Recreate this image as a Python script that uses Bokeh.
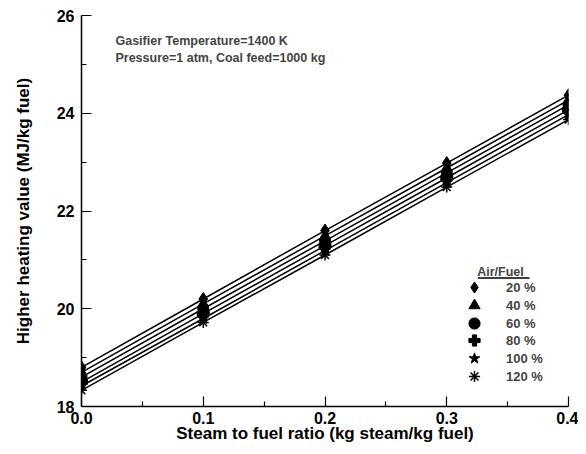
from bokeh.plotting import figure
from bokeh.models import (Range1d, FixedTicker, Label, Legend, LegendItem,
                          BoxAnnotation, CustomJSTickFormatter)
from bokeh.embed import file_html
from bokeh.resources import INLINE

# ---- data ----
steam_ratio = [0.0, 0.1, 0.2, 0.3, 0.4]
hhv_20 = [18.80, 20.20, 21.60, 22.98, 24.37]
hhv_40 = [18.70, 20.10, 21.49, 22.88, 24.27]
hhv_60 = [18.60, 20.00, 21.39, 22.78, 24.17]
hhv_80 = [18.50, 19.90, 21.29, 22.68, 24.07]
hhv_100 = [18.42, 19.80, 21.19, 22.58, 23.97]
hhv_120 = [18.33, 19.72, 21.10, 22.49, 23.87]
series_labels = ["20 %", "40 %", "60 %", "80 %", "100 %", "120 %"]
series_values = [hhv_20, hhv_40, hhv_60, hhv_80, hhv_100, hhv_120]
markers = ["diamond", "triangle", "circle", "plus", "star", "asterisk"]
marker_sizes = [13, 11, 11, 12, 12, 11]
x_ticks = [0.0, 0.1, 0.2, 0.3, 0.4]
y_ticks = [18, 20, 22, 24, 26]

FONT = "Liberation Sans"

p = figure(width=578, height=446, output_backend="svg", toolbar_location=None,
           x_range=Range1d(0, 0.4), y_range=Range1d(18, 26),
           min_border_left=81, min_border_right=10, min_border_top=15,
           min_border_bottom=40)
p.outline_line_color = None
p.grid.visible = False
p.background_fill_color = "white"
p.border_fill_color = "white"

p.xaxis.ticker = FixedTicker(ticks=x_ticks, minor_ticks=[0.05, 0.15, 0.25, 0.35])
p.yaxis.ticker = FixedTicker(ticks=y_ticks, minor_ticks=[19, 21, 23, 25])
p.xaxis.formatter = CustomJSTickFormatter(code="return tick.toFixed(1);")

for ax in (p.xaxis[0], p.yaxis[0]):
    ax.major_tick_in = 10
    ax.major_tick_out = 0
    ax.minor_tick_in = 5
    ax.minor_tick_out = 0
    ax.axis_line_width = 1.5
    ax.major_tick_line_width = 1.2
    ax.minor_tick_line_width = 1.2
    ax.axis_line_color = "black"
    ax.major_tick_line_color = "black"
    ax.minor_tick_line_color = "black"
    ax.major_label_text_font = FONT
    ax.major_label_text_font_style = "bold"
    ax.major_label_text_font_size = "16px"
    ax.major_label_text_color = "black"
    ax.axis_label_text_font = FONT
    ax.axis_label_text_font_style = "bold"
    ax.axis_label_text_font_size = "17px"
    ax.axis_label_text_color = "black"

p.xaxis.axis_label = "Steam to fuel ratio (kg steam/kg fuel)"
p.yaxis.axis_label = "Higher heating value (MJ/kg fuel)"
p.xaxis.major_label_standoff = 5
p.xaxis.axis_label_standoff = -3
p.yaxis.major_label_standoff = 7
p.yaxis.axis_label_standoff = 21

# legend rows: one single-item legend per series (compact row pitch)
legend_row_bottoms = [105, 87, 69, 52, 34, 16]
for lab, vals, mk, sz, vy in zip(series_labels, series_values, markers,
                                 marker_sizes, legend_row_bottoms):
    p.line(steam_ratio, vals, line_color="black", line_width=1.5)
    r = p.scatter(steam_ratio, vals, marker=mk, size=sz, fill_color="black",
                  line_color="black", line_width=1.5 if mk == "asterisk" else 1)
    lg = Legend(items=[LegendItem(label=lab, renderers=[r])], location=(379, vy),
                border_line_color=None, background_fill_alpha=0, padding=0,
                margin=0, spacing=0, glyph_width=28, glyph_height=28,
                label_height=28, label_standoff=18, label_text_font=FONT,
                label_text_font_style="bold", label_text_font_size="13px")
    p.add_layout(lg, "center")

p.add_layout(Label(x=0.325, y=20.745, text="Air/Fuel", text_font=FONT,
                   text_font_style="bold", text_font_size="12.5px",
                   text_baseline="alphabetic"))
p.add_layout(BoxAnnotation(left=0.3255, right=0.368, bottom=20.612, top=20.642,
                           fill_color="black", fill_alpha=1, line_color=None))

p.add_layout(Label(x=0.0279, y=25.47, text="Gasifier Temperature=1400 K",
                   text_font=FONT, text_font_style="bold", text_font_size="12.5px",
                   text_baseline="alphabetic"))
p.add_layout(Label(x=0.0279, y=25.14, text="Pressure=1 atm, Coal feed=1000 kg",
                   text_font=FONT, text_font_style="bold", text_font_size="12.5px",
                   text_baseline="alphabetic"))

open("out.html", "w").write(file_html(p, INLINE))
